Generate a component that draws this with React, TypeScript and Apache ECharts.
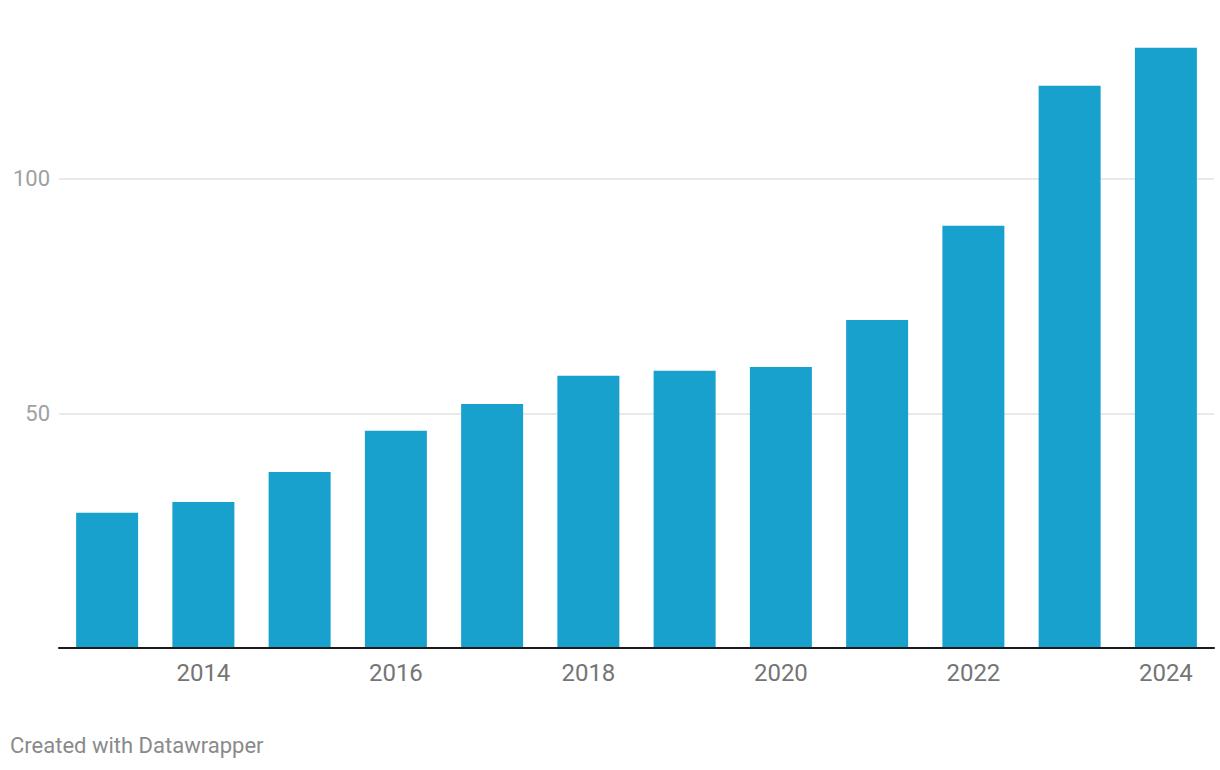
import React, { useEffect, useRef } from "react";
import * as echarts from "echarts";

const years = ["2013", "2014", "2015", "2016", "2017", "2018", "2019", "2020", "2021", "2022", "2023", "2024"];
const values = [28.8, 31.1, 37.5, 46.3, 52.0, 58.0, 59.1, 59.9, 69.9, 90.0, 119.8, 127.9];
const yTickLabels = [50, 100];
const footer = "Created with Datawrapper";

export default function App() {
  const ref = useRef<HTMLDivElement>(null);
  useEffect(() => {
    if (!ref.current) return;
    const chart = echarts.init(ref.current, null, { renderer: "svg" });
    chart.setOption({
      animation: false,
      backgroundColor: "#ffffff",
      textStyle: { fontFamily: "Roboto" },
      grid: { left: 59, right: 6, top: 38, bottom: 122, containLabel: false },
      xAxis: {
        type: "category",
        data: years,
        axisLine: { show: true, lineStyle: { color: "#1a1a1a", width: 2 } },
        axisTick: { show: false },
        axisLabel: {
          interval: (index: number) => index % 2 === 1,
          color: "#757575",
          fontSize: 24,
          margin: 13,
          fontFamily: "Roboto",
        },
        z: 10,
      },
      yAxis: {
        type: "value",
        min: 0,
        max: 130,
        interval: 50,
        axisLine: { show: false },
        axisTick: { show: false },
        axisLabel: {
          formatter: (v: number) => (yTickLabels.includes(v) ? String(v) : ""),
          color: "#a0a0a0",
          fontSize: 22,
          margin: 9,
          fontFamily: "Roboto",
        },
        splitLine: {
          show: true,
          lineStyle: {
            color: ["rgba(0,0,0,0)", "#e2e2e2", "#e2e2e2", "rgba(0,0,0,0)"],
            width: 1.5,
          },
        },
      },
      series: [
        {
          type: "bar",
          data: values,
          barWidth: 62,
          itemStyle: { color: "#18a1cd" },
        },
      ],
      graphic: [
        {
          type: "text",
          left: 10,
          top: 734,
          style: {
            text: footer,
            fill: "#8a8a8a",
            fontSize: 22,
            fontFamily: "Roboto",
          },
        },
      ],
    });
    return () => chart.dispose();
  }, []);
  return (
    <div
      ref={ref}
      style={{ position: "fixed", left: 0, top: 0, width: 1220, height: 770 }}
    />
  );
}
